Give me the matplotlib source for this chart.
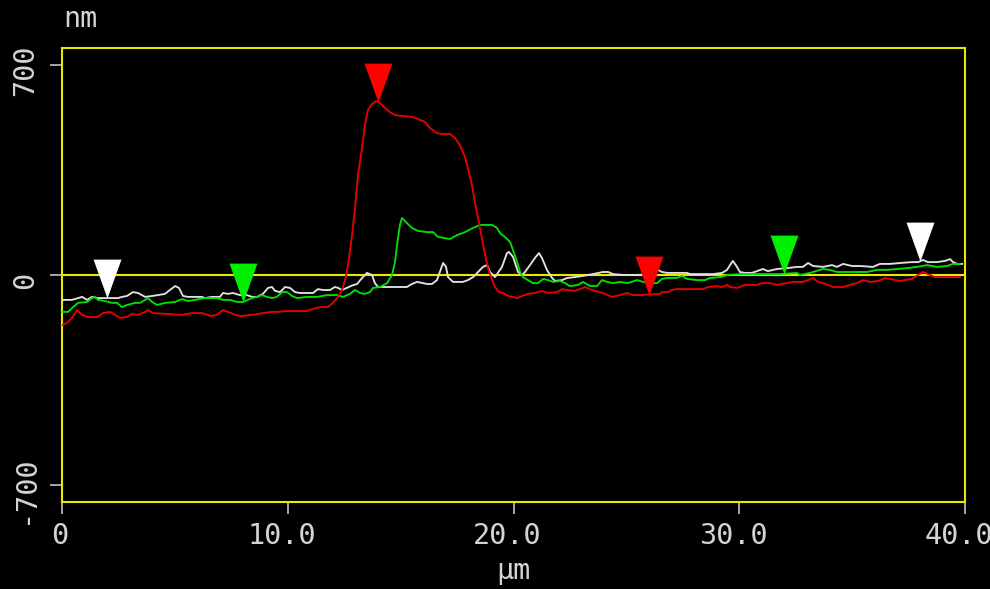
import numpy as np
import matplotlib
matplotlib.use("Agg")
import matplotlib.pyplot as plt
from matplotlib.path import Path
from matplotlib.transforms import ScaledTranslation

# ---- profile data: position (µm) and height (nm) ----
white_x = [0, 0.44, 0.89, 1.11, 1.33, 1.59, 2.48, 2.66, 2.88, 3.14, 3.37, 3.68, 3.99, 4.25,
           4.56, 4.78, 5.01, 5.18, 5.36, 5.58, 6.20, 6.33, 6.64, 7.00, 7.13, 7.35, 7.57, 7.88,
           8.19, 8.42, 8.64, 8.90, 9.13, 9.30, 9.44, 9.66, 9.88, 10.10, 10.32, 10.54, 10.85,
           11.12, 11.34, 11.56, 11.87, 12.09, 12.23, 12.40, 12.62, 12.85, 13.07, 13.29, 13.51,
           13.73, 13.86, 14.00, 14.22, 15.28, 15.50, 15.73, 16.17, 16.39, 16.61, 16.74, 16.88,
           17.01, 17.10, 17.32, 17.76, 17.98, 18.21, 18.43, 18.65, 18.83, 18.96, 19.18, 19.31,
           19.49, 19.71, 19.80, 19.98, 20.20, 20.38, 20.51, 20.73, 20.95, 21.13, 21.26, 21.48,
           21.71, 21.84, 22.15, 22.37, 22.72, 23.08, 23.52, 23.96, 24.19, 24.41, 24.85, 25.47,
           26.18, 26.40, 26.58, 26.80, 27.69, 27.82, 28.84, 29.24, 29.46, 29.59, 29.72, 29.90,
           30.03, 30.25, 30.56, 30.79, 31.05, 31.27, 31.67, 32.12, 32.56, 32.82, 33.05, 33.27,
           33.71, 34.11, 34.33, 34.60, 35.00, 35.35, 35.92, 36.23, 36.68, 37.12, 37.65, 37.92,
           38.14, 38.36, 38.76, 39.11, 39.34, 39.47, 39.65, 39.87]
white_h = [-83, -83, -73, -83, -73, -77, -77, -73, -70, -57, -60, -73, -70, -67,
           -63, -50, -37, -43, -70, -73, -73, -77, -73, -73, -60, -63, -60, -67,
           -67, -73, -73, -63, -43, -40, -53, -57, -40, -43, -57, -60, -60,
           -60, -47, -50, -50, -40, -43, -50, -43, -35, -30, -10, 7,
           0, -27, -40, -40, -40, -30, -23, -30, -30, -17, 10, 40,
           27, -7, -23, -23, -17, -7, 10, 27, 33, 10, -7, 7,
           27, 73, 77, 60, 10, 0, 10, 33, 57, 73, 57, 17,
           -10, -20, -17, -10, -7, -3, 3, 10, 10, 3, 0, 0,
           3, 17, 10, 7, 7, 3, 3, 7, 17, 33, 47, 27,
           10, 7, 7, 13, 20, 13, 20, 23, 27, 27, 40, 30,
           27, 33, 27, 37, 30, 30, 27, 37, 37, 40, 43, 43,
           50, 43, 43, 47, 53, 43, 37, 37]

green_x = [0, 0.27, 0.49, 0.71, 1.11, 1.33, 1.46, 1.59, 1.91, 2.22, 2.44, 2.66, 2.88, 3.23,
           3.46, 3.68, 3.81, 3.99, 4.21, 4.56, 5.01, 5.32, 5.58, 5.89, 6.33, 6.64, 6.87, 7.13,
           7.44, 7.75, 8.02, 8.42, 8.64, 8.86, 9.08, 9.30, 9.52, 9.75, 9.97, 10.19, 10.41,
           10.85, 11.30, 11.74, 12.18, 12.45, 12.76, 12.98, 13.20, 13.42, 13.64, 13.78, 14.09,
           14.40, 14.62, 14.75, 14.84, 14.97, 15.06, 15.28, 15.50, 15.77, 16.17, 16.43, 16.66,
           17.19, 17.50, 17.85, 18.21, 18.52, 18.83, 19.05, 19.27, 19.40, 19.62, 19.85, 19.98,
           20.16, 20.29, 20.42, 20.64, 20.86, 21.09, 21.31, 21.53, 21.75, 22.06, 22.28, 22.50,
           22.86, 23.08, 23.39, 23.70, 23.92, 24.14, 24.41, 24.72, 25.07, 25.47, 25.74, 26.05,
           26.36, 26.58, 26.80, 27.24, 27.46, 27.69, 28.13, 28.48, 28.70, 29.15, 29.46, 30.03,
           31.81, 32.56, 32.69, 33.13, 33.71, 34.02, 34.33, 34.77, 35.22, 35.66, 36.10, 36.54,
           36.99, 37.43, 37.87, 38.32, 38.76, 39.20, 39.47, 39.78]
green_h = [-123, -123, -107, -93, -90, -77, -73, -83, -87, -93, -93, -107, -100, -93,
           -93, -83, -77, -90, -100, -93, -90, -80, -87, -83, -77, -77, -77, -83,
           -83, -90, -90, -77, -73, -67, -73, -77, -73, -57, -57, -70, -77,
           -73, -73, -67, -67, -73, -63, -50, -60, -63, -57, -43, -40,
           -27, 0, 43, 100, 167, 190, 173, 157, 147, 143, 143, 127,
           120, 133, 143, 157, 167, 167, 167, 157, 140, 127, 110, 83,
           43, 10, -7, -17, -27, -27, -13, -17, -23, -20, -27, -37,
           -33, -23, -37, -37, -17, -23, -27, -23, -27, -17, -23, -27,
           -27, -13, -10, -10, -3, -13, -17, -17, -10, -7, 0, 3,
           3, 7, 0, 7, 20, 17, 10, 10, 10, 10, 17, 17,
           20, 23, 27, 33, 27, 30, 37, 37]

red_x = [0, 0.22, 0.44, 0.66, 0.89, 1.11, 1.59, 1.82, 2.13, 2.35, 2.57, 2.88, 3.10, 3.37,
         3.68, 3.81, 4.03, 4.69, 5.32, 5.76, 6.20, 6.47, 6.56, 6.87, 7.13, 7.35, 7.57, 7.88,
         8.46, 8.90, 9.30, 9.52, 10.10, 10.85, 11.12, 11.43, 11.78, 12.00, 12.23, 12.40,
         12.54, 12.67, 12.85, 12.98, 13.11, 13.29, 13.42, 13.55, 13.73, 13.91, 14.09, 14.31,
         14.53, 14.75, 15.11, 15.50, 15.77, 16.08, 16.30, 16.61, 16.88, 17.19, 17.41, 17.63,
         17.85, 17.98, 18.16, 18.29, 18.43, 18.60, 18.74, 18.87, 19.05, 19.18, 19.36, 19.53,
         19.76, 19.98, 20.16, 20.38, 20.64, 20.95, 21.26, 21.53, 21.93, 22.15, 22.41, 22.72,
         22.95, 23.17, 23.48, 23.83, 24.05, 24.36, 24.72, 25.03, 25.29, 25.60, 26.49, 26.58,
         26.84, 27.02, 27.24, 28.39, 28.62, 29.01, 29.24, 29.46, 29.59, 29.90, 30.25, 30.79,
         31.01, 31.36, 31.67, 32.12, 32.38, 32.82, 33.05, 33.27, 33.49, 33.71, 33.93, 34.15,
         34.60, 34.91, 35.22, 35.48, 35.79, 36.15, 36.46, 36.68, 37.12, 37.65, 37.92, 38.14,
         38.36, 38.67, 39.20, 39.78]
red_h = [-167, -160, -143, -117, -133, -140, -140, -127, -123, -133, -143, -140, -130, -133,
         -123, -117, -127, -130, -133, -127, -127, -133, -137, -133, -117, -123, -130, -137,
         -133, -127, -123, -123, -120, -120, -113, -107, -107, -93, -73, -50,
         -17, 33, 133, 223, 333, 423, 500, 550, 570, 580, 573, 557,
         543, 533, 530, 527, 520, 510, 490, 473, 470, 470, 457, 433,
         393, 357, 300, 243, 190, 123, 67, 23, -17, -40, -57, -60,
         -70, -73, -77, -70, -63, -60, -53, -60, -57, -47, -50, -53,
         -47, -40, -50, -57, -63, -73, -67, -60, -67, -67, -63, -57,
         -57, -50, -47, -47, -40, -37, -40, -33, -40, -43, -33, -33,
         -27, -27, -33, -27, -23, -23, -17, -10, -23, -27, -33, -40,
         -40, -33, -27, -17, -23, -20, -10, -13, -20, -13, 0, 10,
         3, -7, -7, -7]

# cursor positions (µm) for each profile
white_cursors = [2.0, 38.0]
green_cursors = [8.0, 32.0]
red_cursors = [14.0, 26.0]

x_ticks = [0, 10, 20, 30, 40]
x_tick_labels = ["0", "10.0", "20.0", "30.0", "40.0"]
y_ticks = [-700, 0, 700]
y_tick_labels = ["-700", "0", "700"]

YELLOW = "#e8e800"
TEXT = "#d4d4d4"
WHITE = "#e0e0e0"
GREEN = "#00e000"
RED = "#e80000"
FONT = "DejaVu Sans Mono"
FS = 20.5

fig = plt.figure(figsize=(9.9, 5.89), dpi=100, facecolor="black")
ax = fig.add_axes([62 / 990, 1 - 502 / 589, (965 - 62) / 990, (502 - 48) / 589])
ax.set_facecolor("black")
ax.set_xlim(0, 40)
ax.set_ylim(-757, 757)

for s in ax.spines.values():
    s.set_color(YELLOW)
    s.set_linewidth(1.5)

ax.axhline(0, color=YELLOW, lw=1.5, zorder=1)

ax.plot(white_x, white_h, color=WHITE, lw=1.35, zorder=3)
ax.plot(green_x, green_h, color=GREEN, lw=1.35, zorder=3)
ax.plot(red_x, red_h, color=RED, lw=1.35, zorder=3)

# downward cursor triangles with the tip on the profile
tri = Path([(-14, 39), (14, 39), (0, 0), (-14, 39)],
           [Path.MOVETO, Path.LINETO, Path.LINETO, Path.CLOSEPOLY])
for cx, xs, hs, col in [(white_cursors, white_x, white_h, "white"),
                        (green_cursors, green_x, green_h, "#00f000"),
                        (red_cursors, red_x, red_h, "#ff0000")]:
    cy = np.interp(cx, xs, hs)
    ax.plot(cx, cy, linestyle="none", marker=tri, markersize=56,
            markerfacecolor=col, markeredgecolor="none", zorder=5, clip_on=False)

ax.set_xticks(x_ticks, labels=x_tick_labels)
ax.set_yticks(y_ticks, labels=y_tick_labels, rotation=90, va="center")
ax.tick_params(axis="both", direction="out", length=8.5, width=1.1, color=TEXT,
               labelcolor=TEXT, labelsize=FS)
ax.tick_params(axis="x", pad=6)
ax.tick_params(axis="y", pad=5)

# tick labels sit slightly left (and y labels slightly lower) of their ticks
y_shift = ScaledTranslation(-4 / 100, -5 / 100, fig.dpi_scale_trans)
for lab in ax.get_xticklabels():
    lab.set_fontfamily(FONT)
    dx = -2 if len(lab.get_text()) == 1 else -6
    lab.set_transform(lab.get_transform()
                      + ScaledTranslation(dx / 100, 0, fig.dpi_scale_trans))
for lab in ax.get_yticklabels():
    lab.set_fontfamily(FONT)
    lab.set_transform(lab.get_transform() + y_shift)

fig.text(63 / 990, 1 - 27 / 589, "nm", color=TEXT, fontsize=FS, family=FONT,
         ha="left", va="baseline")
fig.text(513.5 / 990, 1 - 579 / 589, "µm", color=TEXT, fontsize=FS, family=FONT,
         ha="center", va="baseline")

fig.savefig("out.png", dpi=100, facecolor="black")
